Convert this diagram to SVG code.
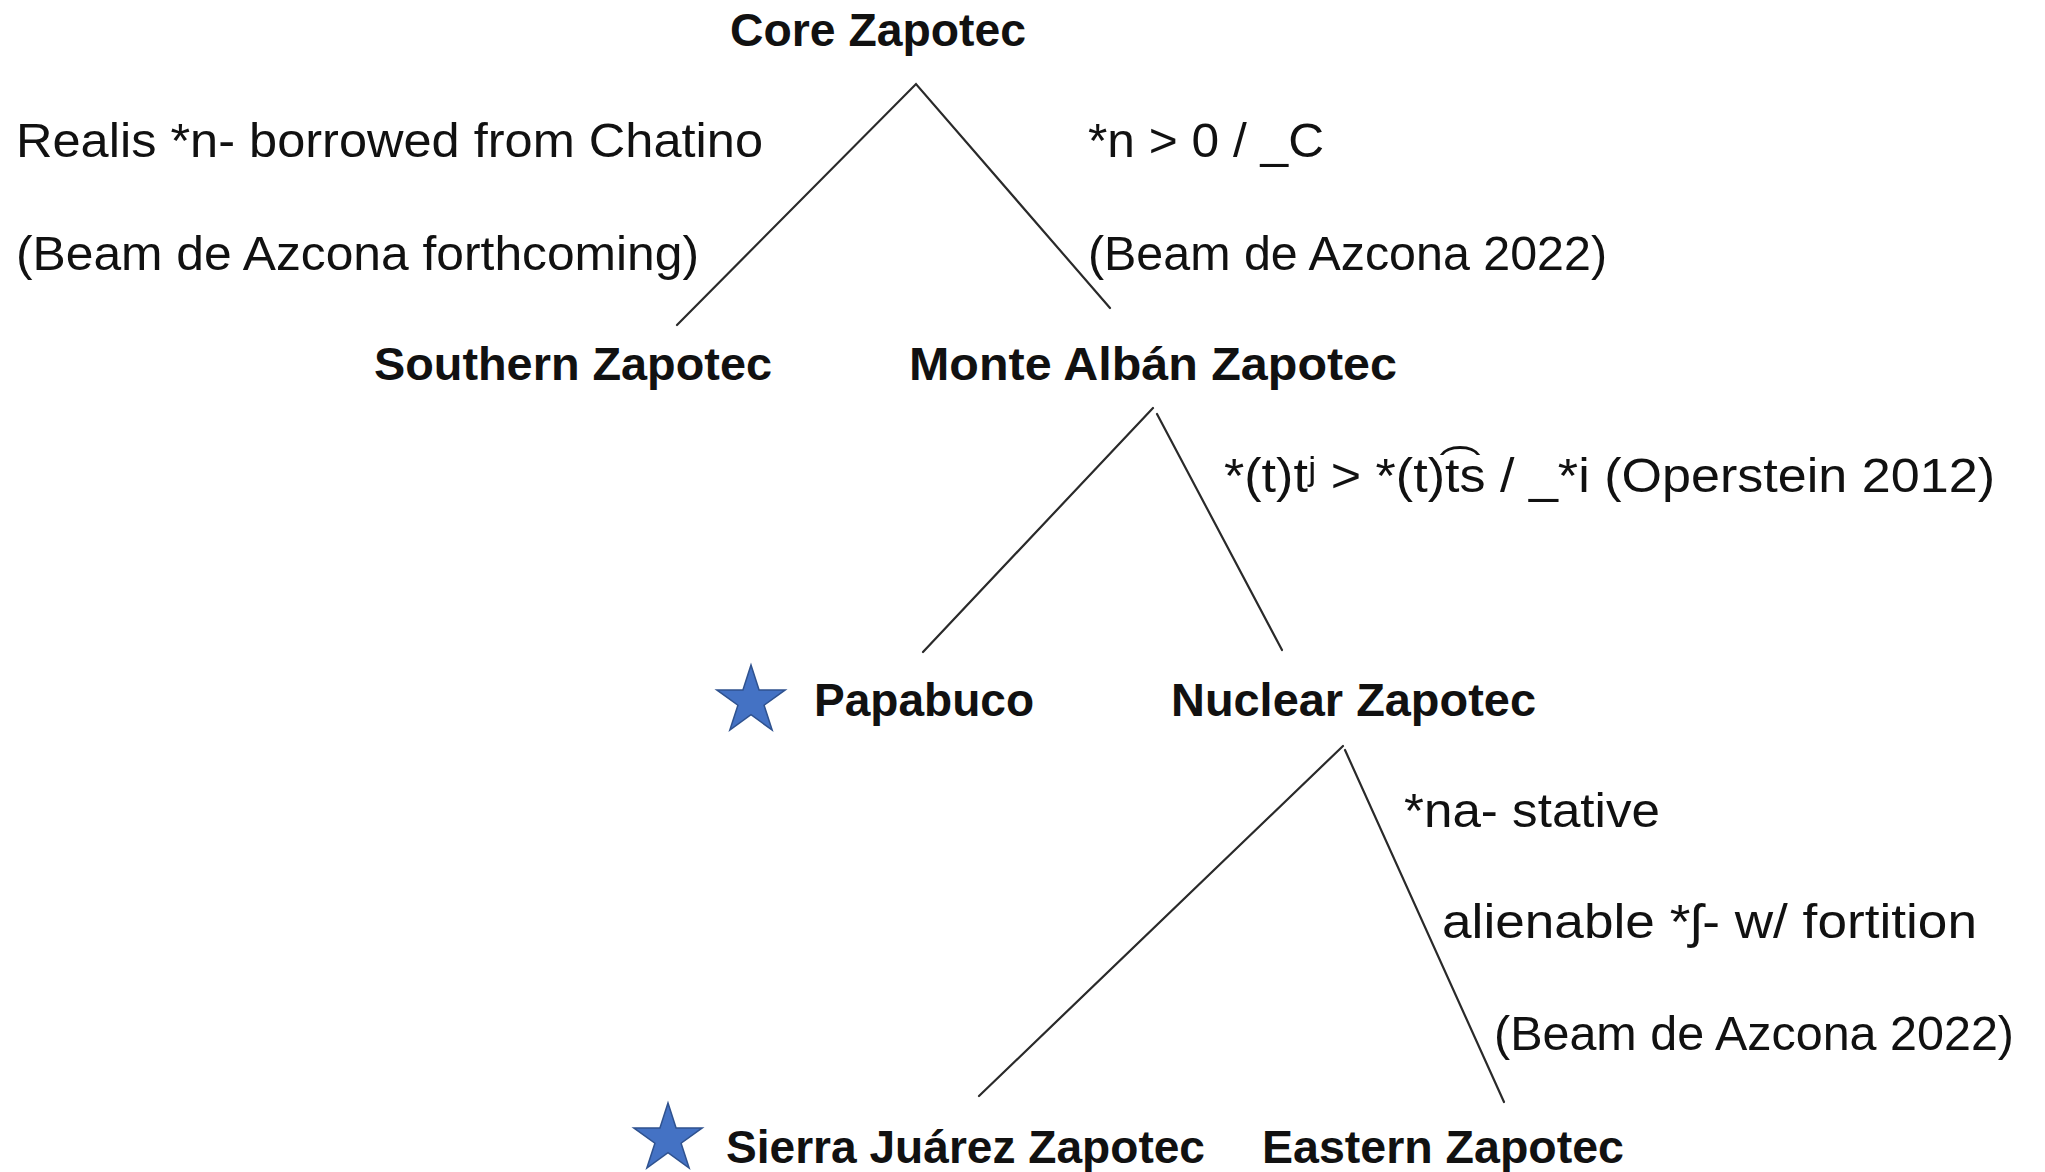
<svg xmlns="http://www.w3.org/2000/svg" xmlns:xlink="http://www.w3.org/1999/xlink" width="2045" height="1172" viewBox="0 0 2045 1172">
<style>
.node{font-family:"Liberation Sans",Arial,sans-serif;font-weight:bold;font-size:46px;fill:#111}
.lbl{font-family:"Liberation Sans","DejaVu Sans",Arial,sans-serif;font-size:49px;fill:#111}
.edge{stroke:#2a2a2a;stroke-width:2.2;fill:none;stroke-linecap:round}
.star{fill:#4472C4;stroke:#2F528F;stroke-width:1.5}
</style>
<defs>
<polygon id="star" class="star" points="0,-36 8.08,-11.12 34.24,-11.12 13.08,4.25 21.16,29.12 0,13.75 -21.16,29.12 -13.08,4.25 -34.24,-11.12 -8.08,-11.12"/>
</defs>
<rect width="2045" height="1172" fill="#fff"/>
<g id="connectors">
<polyline class="edge" points="677,325 916,84 1110,308"/>
<line class="edge" x1="1153" y1="408" x2="923" y2="652"/>
<line class="edge" x1="1157" y1="414" x2="1282" y2="650"/>
<line class="edge" x1="1343" y1="746" x2="979" y2="1096"/>
<line class="edge" x1="1345" y1="750" x2="1504" y2="1102"/>
</g>
<g id="node-core"><text class="node" x="730" y="46" textLength="296" lengthAdjust="spacingAndGlyphs">Core Zapotec</text></g>
<g id="node-southern"><text class="node" x="374" y="380" textLength="398" lengthAdjust="spacingAndGlyphs">Southern Zapotec</text></g>
<g id="node-montealban"><text class="node" x="909" y="380" textLength="488" lengthAdjust="spacingAndGlyphs">Monte Albán Zapotec</text></g>
<g id="node-papabuco"><use xlink:href="#star" href="#star" x="751" y="701"/><text class="node" x="814" y="716" textLength="220" lengthAdjust="spacingAndGlyphs">Papabuco</text></g>
<g id="node-nuclear"><text class="node" x="1171" y="716" textLength="365" lengthAdjust="spacingAndGlyphs">Nuclear Zapotec</text></g>
<g id="node-sierra"><use xlink:href="#star" href="#star" x="668" y="1139"/><text class="node" x="726" y="1163" textLength="479" lengthAdjust="spacingAndGlyphs">Sierra Juárez Zapotec</text></g>
<g id="node-eastern"><text class="node" x="1262" y="1163" textLength="362" lengthAdjust="spacingAndGlyphs">Eastern Zapotec</text></g>
<g id="labels">
<text class="lbl" x="16" y="157" textLength="747" lengthAdjust="spacingAndGlyphs">Realis *n- borrowed from Chatino</text>
<text class="lbl" x="16" y="270" textLength="683" lengthAdjust="spacingAndGlyphs">(Beam de Azcona forthcoming)</text>
<text class="lbl" x="1088" y="157" textLength="236" lengthAdjust="spacingAndGlyphs">*n &gt; 0 / _C</text>
<text class="lbl" x="1088" y="270" textLength="519" lengthAdjust="spacingAndGlyphs">(Beam de Azcona 2022)</text>
<text class="lbl" x="1224" y="492" textLength="771" lengthAdjust="spacingAndGlyphs">*(t)tʲ &gt; *(t)t͡s / _*i (Operstein 2012)</text>
<text class="lbl" x="1404" y="827" textLength="256" lengthAdjust="spacingAndGlyphs">*na- stative</text>
<text class="lbl" x="1442" y="938" textLength="535" lengthAdjust="spacingAndGlyphs">alienable *ʃ- w/ fortition</text>
<text class="lbl" x="1494" y="1050" textLength="520" lengthAdjust="spacingAndGlyphs">(Beam de Azcona 2022)</text>
</g>
</svg>
